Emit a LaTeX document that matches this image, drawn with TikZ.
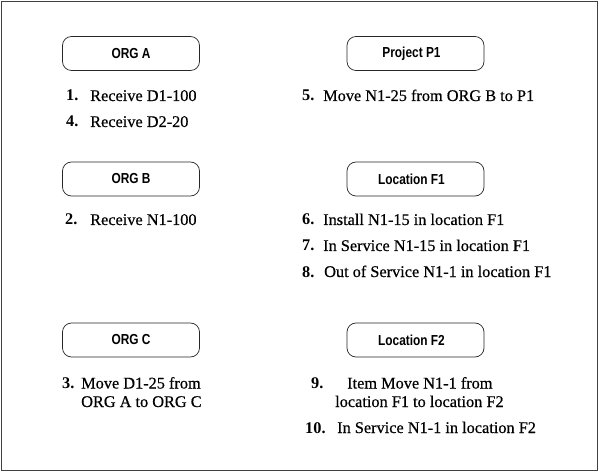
\documentclass[tikz,border=0pt]{standalone}
\usepackage{fontspec}
\setmainfont{Liberation Serif}
\newfontfamily\bodyfont[FakeBold=0.5]{Liberation Serif}
\newfontfamily\numfont{Liberation Serif Bold}
\newfontfamily\labelfont[FakeStretch=0.82]{Liberation Sans Bold}
\begin{document}
\begin{tikzpicture}[x=1pt,y=-1pt,
  orgbox/.style={draw=black!85,line width=0.7pt,rounded corners=9pt,minimum width=137pt,minimum height=34pt,inner sep=0pt,font=\labelfont\fontsize{14.5}{16}\selectfont},
  item/.style={anchor=base west,inner sep=0pt,font=\bodyfont\fontsize{16.3}{18}\selectfont},
  num/.style={anchor=base west,inner sep=0pt,font=\numfont\fontsize{16.3}{18}\selectfont}]
\useasboundingbox (0,0) rectangle (600,473);
\draw[line width=0.8pt,black!75] (1,1) rectangle (597,470);
\node[orgbox] (orga) at (131,53.5) {ORG A};
\node[orgbox] (orgb) at (131,179) {ORG B};
\node[orgbox] (orgc) at (131,340) {ORG C};
\node[orgbox] (p1) at (415.5,53.5) {\hspace{-8pt}Project P1};
\node[orgbox] (f1) at (415.5,179) {\hspace{-8pt}Location F1};
\node[orgbox] (f2) at (415.5,340) {\hspace{-8pt}Location F2};
% left column
\node[num]  (n1) at (66,101) {1.};
\node[item] (t1) at (90,101) {Receive D1-100};
\node[num]  (n4) at (66,127) {4.};
\node[item] (t4) at (90,127) {Receive D2-20};
\node[num]  (n2) at (65,225) {2.};
\node[item] (t2) at (90,225) {Receive N1-100};
\node[num]  (n3) at (62,388.5) {3.};
\node[item] (t3a) at (81,388.5) {Move D1-25 from};
\node[item] (t3b) at (81,407) {ORG A to ORG C};
% right column
\node[num]  (n5) at (302,101) {5.};
\node[item] (t5) at (323,101) {Move N1-25 from ORG B to P1};
\node[num]  (n6) at (302,225) {6.};
\node[item] (t6) at (323,225) {Install N1-15 in location F1};
\node[num]  (n7) at (302,251) {7.};
\node[item] (t7) at (323,251) {In Service N1-15 in location F1};
\node[num]  (n8) at (302,277) {8.};
\node[item] (t8) at (324,277) {Out of Service N1-1 in location F1};
\node[num]  (n9) at (311,388.5) {9.};
\node[item] (t9a) at (347,388.5) {Item Move N1-1 from};
\node[item] (t9b) at (335,407) {location F1 to location F2};
\node[num]  (n10) at (305,433) {10.};
\node[item] (t10) at (337,433) {In Service N1-1 in location F2};
\end{tikzpicture}
\end{document}
